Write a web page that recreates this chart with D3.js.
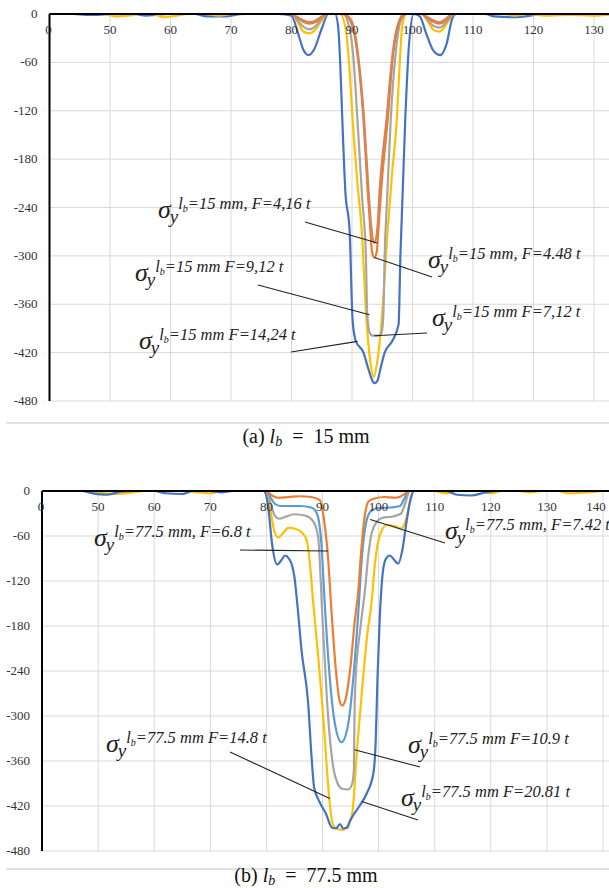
<!DOCTYPE html>
<html>
<head>
  <title>Stress sigma_y along the beam</title>
  <style>
    body { margin: 0; padding: 0; background: #fff; }
    svg { display: block; }
    .tick-label { font-family: "Liberation Serif", serif; font-size: 13px; fill: #333; }
    .ann { font-family: "Liberation Serif", serif; fill: #222; }
    .caption { font-family: "Liberation Serif", serif; font-size: 20px; fill: #111; }
  </style>
</head>
<body>
  <div id="chart"></div>
  <script src="https://d3js.org/d3.v7.min.js"></script>
  <script>
    // axis ticks (both panels)
    const xTicks = [40, 50, 60, 70, 80, 90, 100, 110, 120, 130, 140];
    const xTickLabels = ["0", "50", "60", "70", "80", "90", "100", "110", "120", "130", "140"];
    const yTicks = [0, -60, -120, -180, -240, -300, -360, -420, -480];

    const colors = { blue: "#4472C4", orange: "#ED7D31", gray: "#A5A5A5", yellow: "#FFC000", light: "#5B9BD5", brown: "#D3845A" };

    // ---- panel (a) lb = 15 mm, [x, sigma_y]
    const a_F1424 = [[40,0],[44,0],[46,-1],[48,-1],[50,0],[54,0],[56,-2],[57.5,-1],[60,0],[64,0],[66,-3],[69,-3],[72,0],[78,0],[80,-2],[81,-22],[82,-45],[82.8,-51],[83.8,-43],[85,-18],[86.1,0],[87.2,0],[87.7,-15],[88.1,-70],[88.4,-131],[88.9,-220],[89.6,-268],[90.1,-380],[90.6,-405],[91.9,-420],[92.7,-440],[93.4,-455],[93.7,-458],[94.2,-455],[94.7,-440],[95.4,-420],[96.7,-405],[97.7,-385],[98,-300],[98.8,-131],[99.4,-40],[100.2,0],[101.2,-3],[102.3,-25],[103.5,-46],[104.6,-51],[105.6,-38],[106.6,-5],[107.2,0],[112,0],[113.5,-3],[116.7,-4],[119.5,-2],[121,0],[140,0]];
    const a_F912 = [[40,0],[49,0],[51,-3],[53,-2],[55,0],[57,0],[59,-4],[61,-2],[63,0],[66,0],[68,-2],[70,0],[80,0],[81,-10],[82,-22],[83,-24],[84,-19],[85,-8],[86,0],[88,0],[89,-20],[89.6,-70],[90.1,-131],[90.9,-210],[91.6,-268],[92.4,-380],[93,-430],[93.6,-450],[94.2,-430],[94.9,-380],[95.9,-268],[96.6,-200],[97.4,-131],[97.9,-60],[98.3,-15],[99,0],[101.5,0],[102.5,-9],[103.5,-20],[104.5,-22],[105.5,-14],[106.5,-2],[107,0],[115,0],[117,-2],[119,0],[122,-2],[126,-1],[130,-2],[134,0],[140,0]];
    const a_F712 = [[40,0],[80,0],[81,-8],[82,-16],[83,-19],[84,-15],[85,-6],[86,0],[88.5,0],[89.5,-15],[90.3,-60],[90.9,-131],[91.7,-230],[92.3,-300],[92.5,-370],[92.9,-395],[93.4,-399],[94.4,-399],[94.9,-395],[95.2,-370],[95.4,-300],[95.8,-230],[96.4,-131],[97.2,-50],[98,-10],[99,0],[101.5,0],[102.5,-7],[103.5,-15],[104.5,-17],[105.5,-11],[106.5,-2],[107,0],[140,0]];
    const a_F448 = [[40,0],[80,0],[81,-5],[82,-10],[83,-12],[84,-10],[85,-4],[86,0],[88.5,0],[89.8,-10],[90.9,-50],[91.9,-131],[92.6,-220],[93.1,-275],[93.3,-295],[93.7,-302],[94.1,-295],[94.3,-275],[94.8,-220],[95.9,-131],[96.8,-50],[97.6,-15],[98.8,0],[101.5,0],[102.5,-5],[103.5,-10],[104.5,-12],[105.5,-8],[106.5,-1],[107,0],[140,0]];
    const a_F416 = [[40,0],[80,0],[81,-4],[82,-8],[83,-10],[84,-8],[85,-3],[86,0],[88.7,0],[90,-10],[91,-50],[92,-131],[92.7,-215],[93.2,-265],[93.7,-284],[94.2,-265],[94.6,-215],[95.7,-131],[96.7,-50],[97.5,-15],[98.6,0],[101.5,0],[102.5,-4],[103.5,-8],[104.5,-10],[105.5,-6],[106.5,0],[140,0]];

    // ---- panel (b) lb = 77.5 mm
    const b_F2081 = [[40,0],[47,0],[49,-3],[51.5,-5],[54,-1],[56,0],[60,0],[62,-3],[65,-4],[67,0],[70,0],[72,-2],[74,0],[79.5,0],[80.3,-20],[81,-70],[81.9,-98],[82.7,-92],[83.3,-86],[84,-90],[84.6,-100],[85,-115],[85.5,-150],[86.3,-215],[87.4,-279],[88.1,-360],[88.5,-395],[89.5,-415],[90.6,-430],[91.7,-449],[92.4,-450],[93.1,-444],[93.7,-450],[94.4,-449],[94.9,-440],[96.5,-421],[97.9,-403],[99.1,-375],[99.5,-330],[99.8,-250],[100.2,-170],[100.6,-120],[101.2,-92],[102,-86],[102.8,-92],[103.5,-97],[104.2,-80],[105,-40],[105.8,-8],[106.3,0],[112,0],[114,-5],[116.5,-6],[119,-2],[121,0],[140,0]];
    const b_F148 = [[40,0],[48,0],[50,-2],[53,-4],[56,-2],[58,0],[66,0],[68,-2],[70,-3],[72,0],[80,0],[80.6,-20],[81.3,-50],[82.1,-62],[83,-56],[83.9,-49],[85,-50],[86.3,-55],[87.2,-66],[87.8,-100],[88.3,-145],[89.1,-210],[89.9,-279],[90.5,-340],[91,-392],[91.5,-430],[92,-447],[93.5,-452],[94.7,-443],[95.3,-430],[96.2,-340],[97.2,-252],[98,-190],[98.8,-145],[99.3,-100],[99.8,-72],[100.6,-52],[101.5,-45],[103,-47],[104,-50],[105,-35],[105.7,-10],[106.2,0],[110,0],[112,-3],[114,0],[118,0],[120,-3],[122,0],[125,0],[127,-2],[129,0],[132,0],[134,-3],[137,-2],[140,0]];
    const b_F109 = [[40,0],[80,0],[80.7,-15],[81.5,-33],[82.3,-37],[83.5,-34],[85,-31],[87,-33],[88.3,-40],[89.2,-60],[90,-170],[90.8,-279],[91.9,-368],[92.7,-390],[93.5,-397],[94.6,-398],[95.3,-390],[95.6,-370],[95.7,-300],[95.9,-252],[96.8,-180],[97.6,-130],[98.1,-90],[98.8,-55],[99.8,-40],[100.6,-36],[102.5,-34],[104,-30],[104.8,-15],[105.6,0],[140,0]];
    const b_F742 = [[40,0],[80,0],[80.7,-8],[81.5,-17],[82.5,-20],[84,-20],[86,-20],[88,-22],[89,-30],[89.8,-70],[90.4,-150],[91.2,-240],[92.2,-310],[93.4,-335],[94.6,-310],[95.6,-240],[96.4,-160],[97,-90],[97.7,-45],[98.6,-27],[99.7,-23],[102,-22],[103.8,-20],[104.6,-10],[105.3,0],[140,0]];
    const b_F68 = [[40,0],[80,0],[81,-6],[82,-9],[84,-8],[86,-7],[88,-8],[89.5,-12],[90.3,-40],[91,-90],[91.6,-160],[92.4,-240],[93,-278],[93.5,-286],[94.1,-278],[94.9,-240],[95.8,-170],[96.3,-140],[96.9,-80],[97.5,-35],[98.2,-14],[99.3,-10],[101,-8],[103,-9],[104,-7],[105,-2],[105.5,0],[140,0]];

    const svg = d3.select("#chart").append("svg").attr("width", 609).attr("height", 888);

    function drawPanel(p) {
      const x = d3.scaleLinear().domain([40, 140]).range(p.xr);
      const y = d3.scaleLinear().domain([-480, 0]).range(p.yr);
      const g = svg.append("g");
      const left = x(40), top = y(0), bottom = y(-480);

      // grid
      g.selectAll(".hg").data(yTicks.filter(d => d < 0)).enter().append("line")
        .attr("x1", left).attr("x2", 609).attr("y1", d => y(d)).attr("y2", d => y(d))
        .attr("stroke", "#d9d9d9").attr("stroke-width", 1);
      g.selectAll(".vg").data(xTicks.filter(d => d > 40)).enter().append("line")
        .attr("x1", d => x(d)).attr("x2", d => x(d)).attr("y1", top).attr("y2", bottom)
        .attr("stroke", "#d9d9d9").attr("stroke-width", 1);

      // curves
      const clipId = "clip" + p.id;
      svg.append("clipPath").attr("id", clipId).append("rect")
        .attr("x", left).attr("y", top - 4).attr("width", 609 - left).attr("height", bottom - top + 8);
      const line = d3.line().x(d => x(d[0])).y(d => y(d[1])).curve(d3.curveMonotoneX);
      g.append("g").attr("clip-path", `url(#${clipId})`)
        .selectAll("path").data(p.series).enter().append("path")
        .attr("d", d => line(d.values)).attr("fill", "none")
        .attr("stroke", d => d.color).attr("stroke-width", 2.2).attr("stroke-linejoin", "round");

      // axes lines
      g.append("line").attr("x1", left).attr("x2", 609).attr("y1", top).attr("y2", top)
        .attr("stroke", "#000").attr("stroke-width", 2);
      g.append("line").attr("x1", left).attr("x2", left).attr("y1", top).attr("y2", bottom)
        .attr("stroke", "#000").attr("stroke-width", 2);

      // tick labels (only those that fall inside the page)
      g.selectAll(".yl").data(yTicks).enter().append("text").attr("class", "tick-label")
        .attr("x", left - 12).attr("y", d => y(d) + 4).attr("text-anchor", "end").text(d => d);
      const shown = xTicks.map((d, i) => ({ v: d, label: xTickLabels[i] })).filter(d => x(d.v) < 612);
      g.selectAll(".xl").data(shown).enter().append("text").attr("class", "tick-label")
        .attr("x", d => Math.min(x(d.v) - (d.v === 40 ? 1 : 0), 596)).attr("y", top + 20).attr("text-anchor", "middle")
        .text(d => d.label);

      // annotations: sigma_y with superscript, and a leader to its curve
      p.notes.forEach(n => {
        g.append("line").attr("x1", n.from[0]).attr("y1", n.from[1])
          .attr("x2", x(n.to[0])).attr("y2", y(n.to[1]))
          .attr("stroke", "#222").attr("stroke-width", 1.1);
        const t = g.append("text").attr("class", "ann").attr("x", n.at[0]).attr("y", n.at[1]);
        t.append("tspan").attr("font-size", 26).attr("font-style", "italic").text("σ");
        t.append("tspan").attr("font-size", 19).attr("font-style", "italic").attr("dy", 5).attr("dx", -1).text("y");
        t.append("tspan").attr("font-size", 16.5).attr("font-style", "italic").attr("dy", -14).text("l");
        t.append("tspan").attr("font-size", 10).attr("font-style", "italic").attr("dy", 3).text("b");
        t.append("tspan").attr("font-size", 16.5).attr("font-style", "italic").attr("dy", -3).text(n.text);
      });

      // separator and caption
      g.append("line").attr("x1", 6).attr("x2", 609).attr("y1", p.sepY).attr("y2", p.sepY)
        .attr("stroke", "#d9d9d9").attr("stroke-width", 1.5);
      const c = g.append("text").attr("class", "caption").attr("x", 306).attr("y", p.capY).attr("text-anchor", "middle");
      c.append("tspan").text(p.caption[0] + " ");
      c.append("tspan").attr("font-style", "italic").text("l");
      c.append("tspan").attr("font-style", "italic").attr("font-size", 14).attr("dy", 3).text("b");
      c.append("tspan").attr("dy", -3).text("\u2002=\u2002" + p.caption[1]);
    }

    drawPanel({
      id: "a", xr: [49.5, 654.5], yr: [401, 14], sepY: 423, capY: 443,
      caption: ["(a)", "15 mm"],
      series: [
        { color: colors.blue, values: a_F1424 },
        { color: colors.yellow, values: a_F912 },
        { color: colors.gray, values: a_F712 },
        { color: colors.orange, values: a_F448 },
        { color: colors.brown, values: a_F416 }
      ],
      notes: [
        { at: [158, 218], text: "=15 mm, F=4,16 t", from: [305, 222], to: [94.2, -284] },
        { at: [135, 281], text: "=15 mm F=9,12 t", from: [258, 285], to: [92.9, -373] },
        { at: [139, 349], text: "=15 mm F=14,24 t", from: [291, 352], to: [90.9, -406] },
        { at: [428, 268], text: "=15 mm, F=4.48 t", from: [432, 277], to: [93.7, -302] },
        { at: [432, 326], text: "=15 mm F=7,12 t", from: [427, 333], to: [93.7, -399] }
      ]
    });

    drawPanel({
      id: "b", xr: [42, 603], yr: [851, 491], sepY: 869, capY: 882,
      caption: ["(b)", "77.5 mm"],
      series: [
        { color: colors.yellow, values: b_F148 },
        { color: colors.blue, values: b_F2081 },
        { color: colors.gray, values: b_F109 },
        { color: colors.light, values: b_F742 },
        { color: colors.orange, values: b_F68 }
      ],
      notes: [
        { at: [94, 546], text: "=77.5 mm, F=6.8 t", from: [240, 550], to: [91, -80] },
        { at: [445, 539], text: "=77.5 mm, F=7.42 t", from: [445, 543], to: [98.5, -38] },
        { at: [106, 752], text: "=77.5 mm F=14.8 t", from: [230, 752], to: [91.3, -410] },
        { at: [408, 753], text: "=77.5 mm F=10.9 t", from: [420, 767], to: [95.7, -345] },
        { at: [401, 806], text: "=77.5 mm F=20.81 t", from: [418, 820], to: [97.0, -414] }
      ]
    });
  </script>
</body>
</html>
